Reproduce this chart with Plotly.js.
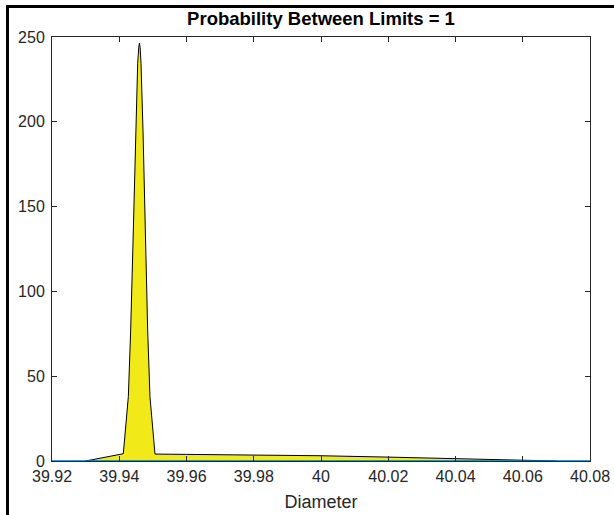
<!DOCTYPE html>
<html>
<head>
<meta charset="utf-8">
<script src="https://cdn.plot.ly/plotly-3.0.1.min.js"></script>
<style>
html,body{margin:0;padding:0;background:#fff;overflow:hidden;}
#chart{width:614px;height:515px;position:absolute;left:0;top:0;}
#frame{position:absolute;left:6px;top:5px;width:700px;height:600px;border:3px solid #000;pointer-events:none;box-sizing:border-box;}
</style>
</head>
<body>
<div id="chart"></div>
<div id="frame"></div>
<script>
// Data
const diameter = [39.93, 39.94121, 39.94270, 39.94340, 39.94419, 39.94488, 39.94548, 39.94580, 39.94600, 39.94620, 39.94647, 39.94706, 39.94766, 39.94845, 39.94914, 39.95063, 39.96, 39.98, 40.00, 40.02, 40.04, 40.06, 40.07];
const density  = [0,     4.3,      37.9,     77.2,     136.2,    195.2,    234.5,    244,      246.3,    244,      234.5,    195.2,    136.2,    77.2,     37.9,     4.1,      3.9,   3.6,   3.1,   2.3,   1.3,   0.5,   0];
const baseX = [39.92, 40.08];
const baseY = [0, 0];
const xTickVals = [39.92, 39.94, 39.96, 39.98, 40.00, 40.02, 40.04, 40.06, 40.08];
const xTickText = ['39.92', '39.94', '39.96', '39.98', '40', '40.02', '40.04', '40.06', '40.08'];
const yTickVals = [0, 50, 100, 150, 200, 250];
const titleText = 'Probability Between Limits = 1';
const xLabel = 'Diameter';

const font = 'Liberation Sans, Arial, Helvetica, sans-serif';
const axisColor = '#262626';

const traces = [
  {
    x: diameter, y: density, type: 'scatter', mode: 'lines',
    fill: 'tozeroy', fillcolor: '#f2e918',
    line: {color: '#000000', width: 1}, hoverinfo: 'skip'
  },
  {
    x: baseX, y: baseY, type: 'scatter', mode: 'lines',
    line: {color: '#0072bd', width: 1.5}, hoverinfo: 'skip'
  }
];

const axisCommon = {
  showgrid: false, zeroline: false, showline: true, mirror: 'ticks',
  linecolor: axisColor, linewidth: 1, ticks: 'inside', ticklen: 5,
  tickcolor: axisColor, tickwidth: 1,
  tickfont: {family: font, size: 16, color: axisColor}
};

const layout = {
  width: 614, height: 515,
  margin: {l: 52, r: 24, t: 37, b: 54, pad: 0},
  paper_bgcolor: '#ffffff', plot_bgcolor: '#ffffff',
  showlegend: false,
  title: {text: '<b>' + titleText + '</b>', font: {family: font, size: 18.5, color: '#000000'},
          x: 0.5, xref: 'paper', y: 1 - 19 / 515, yref: 'container', yanchor: 'middle'},
  xaxis: Object.assign({}, axisCommon, {
    range: [39.92, 40.08], tickmode: 'array', tickvals: xTickVals, ticktext: xTickText,
    ticklabelstandoff: 1,
    title: {text: xLabel, font: {family: font, size: 18, color: axisColor}, standoff: 11}
  }),
  yaxis: Object.assign({}, axisCommon, {
    range: [0, 250], tickmode: 'array', tickvals: yTickVals, ticktext: yTickVals.map(String),
    ticklabelstandoff: 3
  })
};

Plotly.newPlot('chart', traces, layout, {displayModeBar: false, staticPlot: true});
</script>
</body>
</html>
